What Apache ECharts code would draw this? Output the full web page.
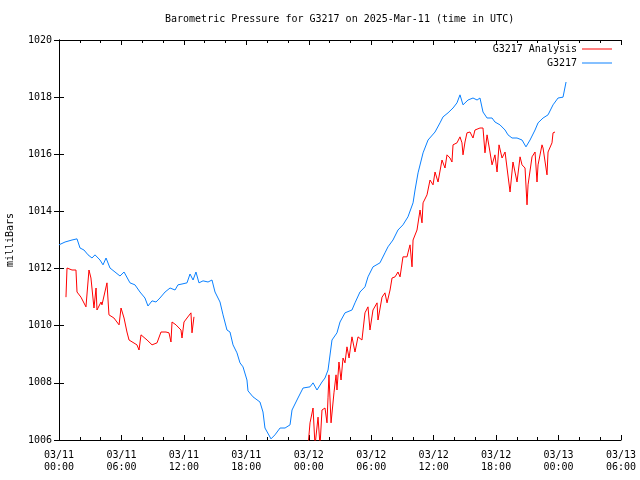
<!DOCTYPE html>
<html>
<head>
<meta charset="utf-8">
<script src="https://cdn.jsdelivr.net/npm/echarts@6/dist/echarts.min.js"></script>
<style>html,body{margin:0;padding:0;background:#fff;}#c{width:640px;height:480px;}</style>
</head>
<body>
<div id="c"></div>
<script>
// hours since 2025-03-11 00:00 UTC
const blueHours = [0.0,0.58,1.25,1.73,2.02,2.40,2.79,3.17,3.46,3.94,4.23,4.52,4.90,5.38,5.86,6.25,6.82,7.30,7.78,8.26,8.55,8.94,9.32,9.70,10.19,10.67,11.15,11.43,11.82,12.30,12.59,12.88,13.16,13.45,13.84,14.32,14.70,14.99,15.47,15.76,16.14,16.43,16.72,17.10,17.39,17.68,18.06,18.16,18.64,19.31,19.60,19.79,20.37,20.75,21.24,21.72,22.20,22.39,22.96,23.45,24.12,24.41,24.79,25.27,25.56,25.85,26.23,26.71,27.00,27.48,28.15,28.44,28.92,29.40,29.69,30.17,30.84,31.32,31.61,32.09,32.57,33.05,33.53,34.02,34.21,34.50,34.98,35.46,35.65,36.13,36.61,36.90,37.38,37.86,38.24,38.53,38.82,39.30,39.78,40.17,40.45,40.74,41.13,41.61,41.89,42.37,42.86,43.14,43.53,44.01,44.49,44.87,45.26,45.74,46.03,46.51,46.99,47.47,47.95,48.43,48.72];
const bluePressure = [1012.83,1012.93,1013.00,1013.04,1012.72,1012.65,1012.48,1012.37,1012.48,1012.30,1012.13,1012.37,1012.02,1011.88,1011.74,1011.88,1011.50,1011.43,1011.18,1010.97,1010.69,1010.87,1010.83,1010.97,1011.18,1011.32,1011.25,1011.43,1011.46,1011.50,1011.81,1011.60,1011.88,1011.50,1011.57,1011.53,1011.60,1011.18,1010.83,1010.38,1009.85,1009.78,1009.33,1009.05,1008.70,1008.56,1008.10,1007.72,1007.51,1007.33,1006.98,1006.42,1006.04,1006.18,1006.42,1006.42,1006.53,1007.05,1007.47,1007.82,1007.86,1008.00,1007.75,1008.03,1008.17,1008.45,1009.50,1009.75,1010.13,1010.45,1010.55,1010.80,1011.18,1011.36,1011.71,1012.06,1012.20,1012.55,1012.76,1013.00,1013.35,1013.53,1013.81,1014.30,1014.75,1015.35,1016.05,1016.50,1016.50,1016.78,1017.10,1017.31,1017.45,1017.62,1017.80,1018.08,1017.73,1017.90,1017.97,1017.90,1017.97,1017.48,1017.27,1017.27,1017.13,1017.03,1016.85,1016.68,1016.57,1016.57,1016.50,1016.26,1016.50,1016.85,1017.10,1017.27,1017.38,1017.73,1017.97,1018.00,1018.53];

const redHours1 = [0.67,0.77,0.96,1.25,1.63,1.73,2.11,2.59,2.88,3.07,3.36,3.56,3.65,4.04,4.13,4.61,4.80,5.28,5.77,5.96,6.25,6.53,6.73,7.49,7.69,7.88,8.46,8.94,9.42,9.80,10.28,10.57,10.76,10.86,11.24,11.72,11.82,12.01,12.30,12.68,12.78,12.97];
const redPressure1 = [1011.00,1012.02,1012.06,1011.95,1011.95,1011.18,1011.00,1010.66,1011.95,1011.67,1010.62,1011.32,1010.55,1010.83,1010.73,1011.50,1010.38,1010.27,1010.03,1010.62,1010.27,1009.78,1009.50,1009.33,1009.15,1009.68,1009.50,1009.33,1009.40,1009.78,1009.78,1009.75,1009.43,1010.13,1010.03,1009.85,1009.57,1010.13,1010.27,1010.45,1009.75,1010.31];

const redHours2 = [23.93,24.12,24.41,24.50,24.60,24.79,24.89,25.08,25.27,25.56,25.75,25.85,25.94,26.14,26.33,26.42,26.62,26.71,26.90,27.10,27.29,27.48,27.67,27.87,28.15,28.44,28.73,29.11,29.40,29.69,29.88,30.17,30.56,30.65,31.04,31.32,31.52,31.81,32.00,32.29,32.57,32.77,33.05,33.44,33.53,33.73,33.92,34.02,34.40,34.69,34.88,34.98,35.36,35.65,35.94,36.13,36.42,36.80,37.09,37.28,37.57,37.76,37.86,38.24,38.53,38.72,38.82,39.01,39.20,39.49,39.78,39.97,40.45,40.74,40.93,41.13,41.41,41.61,41.89,42.09,42.28,42.57,42.86,43.05,43.34,43.62,44.01,44.30,44.49,44.78,44.97,45.07,45.45,45.74,45.93,46.03,46.41,46.51,46.89,46.99,47.37,47.47,47.66];
const redPressure2 = [1005.80,1006.60,1007.12,1007.15,1005.80,1005.80,1006.80,1005.80,1007.05,1007.12,1006.60,1007.50,1008.28,1006.60,1006.63,1007.65,1008.28,1007.75,1008.73,1008.10,1008.87,1008.70,1009.26,1008.87,1009.61,1009.08,1009.61,1009.50,1010.45,1010.66,1009.85,1010.55,1010.80,1010.20,1011.00,1011.15,1010.80,1011.25,1011.67,1011.71,1011.88,1011.71,1012.41,1012.41,1012.55,1012.83,1012.06,1013.00,1013.35,1014.05,1013.60,1014.30,1014.58,1015.10,1014.93,1015.38,1015.03,1015.80,1015.52,1015.98,1015.87,1015.73,1016.33,1016.40,1016.61,1016.40,1015.98,1016.43,1016.75,1016.78,1016.57,1016.85,1016.92,1016.92,1016.05,1016.68,1016.08,1015.63,1015.98,1015.38,1016.33,1015.87,1016.08,1015.52,1014.68,1015.73,1015.03,1015.91,1015.63,1015.52,1014.23,1014.93,1015.91,1016.08,1015.03,1015.63,1016.33,1016.22,1015.28,1016.08,1016.40,1016.75,1016.78];

const FONT = 'DejaVu Sans Mono';
const FS = 10;
const redData = redHours1.map((h,i)=>[h, redPressure1[i]])
  .concat([[18.5, null]])
  .concat(redHours2.map((h,i)=>[h, redPressure2[i]]));
const blueData = blueHours.map((h,i)=>[h, bluePressure[i]]);

function fmtX(v){
  const day = 11 + Math.floor(v/24);
  const hr = v % 24;
  return '03/' + String(day).padStart(2,'0') + '\n' + String(hr).padStart(2,'0') + ':00';
}

const chart = echarts.init(document.getElementById('c'));
const axisCommonX = {
  type:'value', min:0, max:54, interval:6,
  axisLine:{show:true, lineStyle:{color:'#000', width:1}},
  axisTick:{show:true, inside:true, length:5, lineStyle:{color:'#000'}},
  minorTick:{show:true, splitNumber:3, length:3, lineStyle:{color:'#000'}},
  splitLine:{show:false}
};
const axisCommonY = {
  type:'value', min:1006, max:1020, interval:2,
  axisLine:{show:true, lineStyle:{color:'#000', width:1}},
  axisTick:{show:true, inside:true, length:5, lineStyle:{color:'#000'}},
  splitLine:{show:false}
};
chart.setOption({
  animation:false,
  backgroundColor:'#fff',
  title:{text:'Barometric Pressure for G3217 on 2025-Mar-11 (time in UTC)', left:165, top:14, padding:0,
    textStyle:{fontFamily:FONT, fontSize:FS, fontWeight:'normal', color:'#000'}},
  grid:{left:59, right:19, top:40, bottom:40, containLabel:false, outerBoundsMode:'none'},
  legend:{
    orient:'vertical', right:28, top:43, align:'right', itemGap:2, padding:0,
    itemWidth:30, itemHeight:1, icon:'rect',
    textStyle:{fontFamily:FONT, fontSize:FS, color:'#000', lineHeight:12},
    data:['G3217 Analysis','G3217']
  },
  xAxis:[
    Object.assign({}, axisCommonX, {position:'bottom',
      axisLabel:{show:true, formatter:fmtX, fontFamily:FONT, fontSize:FS, color:'#000', margin:9, lineHeight:12}}),
    Object.assign({}, axisCommonX, {position:'top', axisLabel:{show:false}})
  ],
  yAxis:[
    Object.assign({}, axisCommonY, {position:'left', name:'milliBars', nameLocation:'middle', nameGap:44, nameRotate:90,
      nameTextStyle:{fontFamily:FONT, fontSize:FS, color:'#000'},
      axisLabel:{show:true, formatter:v=>String(v), fontFamily:FONT, fontSize:FS, color:'#000', margin:7}}),
    Object.assign({}, axisCommonY, {position:'right', axisLabel:{show:false}})
  ],
  series:[
    {name:'G3217 Analysis', type:'line', data:redData, symbol:'none', connectNulls:false, clip:true,
      lineStyle:{color:'#ff0000', width:1}, itemStyle:{color:'#ff0000'}},
    {name:'G3217', type:'line', data:blueData, symbol:'none', clip:true,
      lineStyle:{color:'#0a80ff', width:1}, itemStyle:{color:'#0a80ff'}}
  ]
});
</script>
</body>
</html>
